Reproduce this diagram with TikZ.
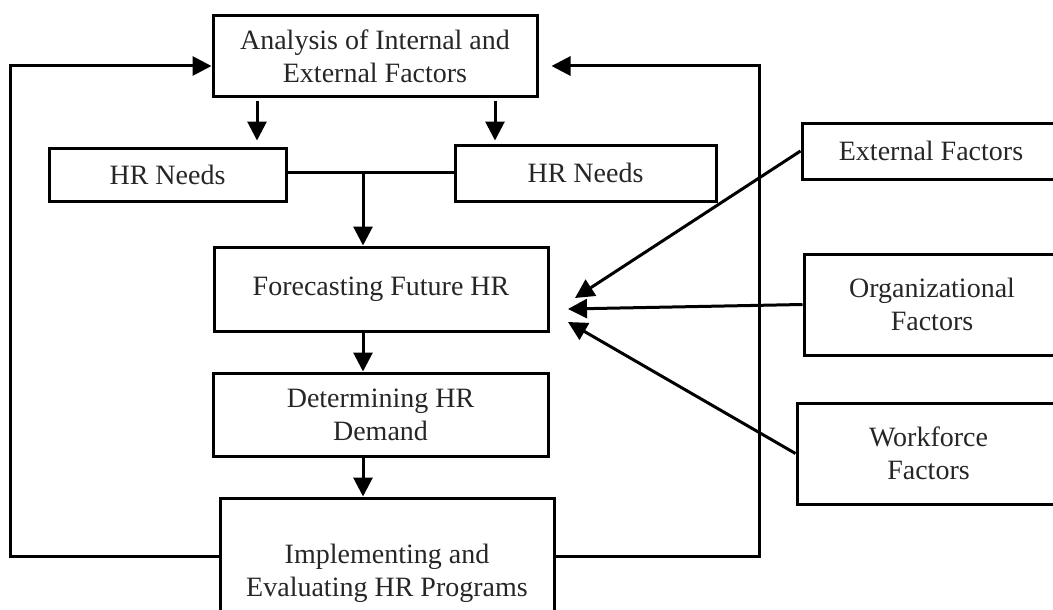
\documentclass[tikz,border=0pt]{standalone}
\usepackage{fontspec}
\setmainfont{Liberation Serif}
\usetikzlibrary{arrows.meta}
\begin{document}
\begin{tikzpicture}[x=1pt,y=-1pt,
  box/.style={draw=black, line width=3pt, rectangle, align=center, inner sep=0pt,
    text=black!85, font=\fontsize{28}{33}\selectfont},
  link/.style={line width=3pt, draw=black},
  arr/.style={link, -{Triangle[length=19pt,width=19pt]}}]
\useasboundingbox (0,0) rectangle (1053,610);
\clip (0,0) rectangle (1053,610);

% main process boxes
\node[box, minimum width=324pt, minimum height=81pt] (ana) at (375,56.5) {Analysis of Internal and\\External Factors};
\node[box, minimum width=237pt, minimum height=53pt] (hra) at (167.5,174.5) {HR Needs};
\node[box, minimum width=261pt, minimum height=56pt] (hrb) at (585.5,173) {HR Needs};
\node[box, minimum width=334pt, minimum height=84pt] (fore) at (381,289) {Forecasting Future HR};
\node[box, minimum width=335pt, minimum height=83pt] (det) at (380.5,414.5) {Determining HR\\Demand};
\node[box, minimum width=334pt, minimum height=150pt] (impl) at (387,573) {Implementing and\\Evaluating HR Programs};

% influencing factors
\node[box, minimum width=258pt, minimum height=56pt] (ext) at (931,151) {External Factors};
\node[box, minimum width=256pt, minimum height=101pt] (org) at (932,304.5) {Organizational\\Factors};
\node[box, minimum width=263pt, minimum height=101pt] (work) at (928.5,453.5) {Workforce\\Factors};

% routing points
\coordinate (dl) at (257,0);
\coordinate (dr) at (495,0);
\coordinate (jn) at (363,172);
\coordinate (fbl) at (10,556);
\coordinate (fbr) at (759,556);
\coordinate (top) at (0,66);
\coordinate (pe) at (575,298);
\coordinate (po) at (568,309);
\coordinate (pw) at (568,322);

% analysis splits into the two needs
\draw[arr, shorten <=3pt, shorten >=6pt] (ana.south -| dl) -- (hra.north -| dl);
\draw[arr, shorten <=3pt, shorten >=3pt] (ana.south -| dr) -- (hrb.north -| dr);

% needs merge into the forecast
\draw[link] (hra.east |- jn) -- (hrb.west |- jn);
\draw[arr] (jn) -- (fore.north -| jn);
\draw[arr] (fore.south -| jn) -- (det.north -| jn);
\draw[arr] (det.south -| jn) -- (impl.north -| jn);

% feedback loops
\draw[arr] (impl.west |- fbl) -- (fbl) -- (fbl |- top) -- (ana.west |- top);
\draw[arr, shorten >=13pt] (impl.east |- fbr) -- (fbr) -- (fbr |- top) -- (ana.east |- top);

% factors feeding the forecast
\draw[arr] (ext.west) -- (pe);
\draw[arr] (org.west) -- (po);
\draw[arr] (work.west) -- (pw);
\end{tikzpicture}
\end{document}
